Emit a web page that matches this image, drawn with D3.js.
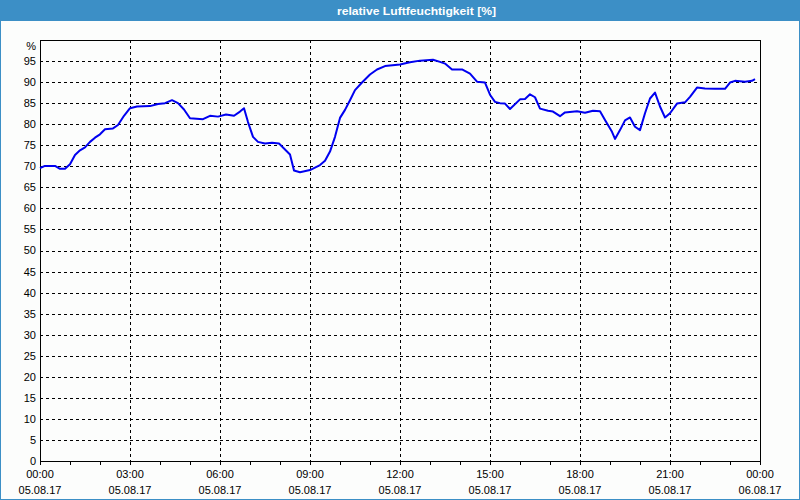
<!DOCTYPE html>
<html><head><meta charset="utf-8">
<script src="https://cdn.jsdelivr.net/npm/d3@7"></script>
<style>
html,body{margin:0;padding:0;background:#fcfdfc;}
svg{display:block;}
text{font-family:"Liberation Sans",Arial,sans-serif;}
</style></head>
<body><svg id="c" width="800" height="500"></svg>
<script>
const title = "relative Luftfeuchtigkeit [%]";
const yUnit = "%";
const minutes = [0,10,30,40,50,60,70,80,90,100,110,120,130,146,156,168,180,194,220,236,250,264,276,288,300,326,340,356,372,388,400,408,416,426,436,450,464,478,490,500,508,520,540,560,570,580,590,600,610,620,630,644,660,674,690,720,740,760,786,800,810,824,844,860,874,890,900,910,920,930,940,960,970,980,990,1000,1016,1026,1040,1050,1074,1090,1106,1120,1130,1144,1150,1160,1170,1180,1190,1200,1210,1220,1230,1240,1250,1260,1274,1290,1300,1314,1330,1350,1370,1380,1390,1410,1424,1430];
const humidity = [69.6,70.1,70.1,69.4,69.4,70.5,72.7,73.8,74.5,75.8,76.8,77.6,78.8,79.0,79.8,82.0,83.8,84.2,84.3,84.8,85.0,85.7,85.0,83.5,81.4,81.2,82.0,81.8,82.3,82.0,83.0,83.8,80.5,77.0,75.8,75.4,75.6,75.4,74.0,72.8,69.0,68.6,69.1,70.3,71.3,73.5,77.0,81.5,83.4,85.7,88.1,89.9,91.8,93.0,93.8,94.2,94.7,95.1,95.3,94.8,94.4,93.0,93.0,92.0,90.1,89.9,87.0,85.3,85.0,84.9,83.6,85.9,86.0,87.1,86.4,83.7,83.2,83.0,81.9,82.8,83.1,82.7,83.2,83.1,81.0,78.2,76.5,78.6,80.9,81.6,79.4,78.6,82.6,86.1,87.5,84.2,81.6,82.6,84.9,85.2,86.5,88.7,88.5,88.4,88.4,89.9,90.3,90.1,90.3,90.7];
const yTicks = [0,5,10,15,20,25,30,35,40,45,50,55,60,65,70,75,80,85,90,95];
const xTickMinutes = [0,180,360,540,720,900,1080,1260,1440];
const xTimeLabels = ["00:00","03:00","06:00","09:00","12:00","15:00","18:00","21:00","00:00"];
const xDateLabels = ["05.08.17","05.08.17","05.08.17","05.08.17","05.08.17","05.08.17","05.08.17","05.08.17","06.08.17"];
const xMinorMinutes = d3.range(0, 1441, 60);

const svg = d3.select("#c");
const W = 800, H = 500;
const blue = "#3c8fc6";
svg.append("rect").attr("x",0).attr("y",0).attr("width",W).attr("height",H).attr("fill","#fcfdfc");
svg.append("rect").attr("x",0.5).attr("y",0.5).attr("width",W-1).attr("height",H-1).attr("fill","none").attr("stroke",blue);
svg.append("rect").attr("x",0).attr("y",0).attr("width",W).attr("height",21).attr("fill",blue);
svg.append("text").attr("x",337).attr("y",14.5).attr("fill","#fff").attr("font-weight","bold")
  .attr("font-size",11).attr("textLength",159).attr("lengthAdjust","spacingAndGlyphs").text(title);

const x = d3.scaleLinear().domain([0,1440]).range([40,760]);
const y = d3.scaleLinear().domain([0,100]).range([461,40]);
const cr = v => Math.round(v) + 0.5;

const g = svg.append("g");
// grid
g.selectAll(".hg").data(yTicks.filter(d=>d>0)).join("line")
  .attr("x1",40).attr("x2",760).attr("y1",d=>cr(y(d))).attr("y2",d=>cr(y(d)))
  .attr("stroke","#000").attr("stroke-dasharray","3,3");
g.selectAll(".vg").data(xTickMinutes.filter(d=>d>0&&d<1440)).join("line")
  .attr("y1",40).attr("y2",461).attr("x1",d=>cr(x(d))).attr("x2",d=>cr(x(d)))
  .attr("stroke","#000").attr("stroke-dasharray","3,3");
// minor ticks
g.selectAll(".mt").data(xMinorMinutes).join("line")
  .attr("x1",d=>cr(x(d))).attr("x2",d=>cr(x(d))).attr("y1",461).attr("y2",465)
  .attr("stroke","#000");
// frame
g.append("rect").attr("x",cr(40)).attr("y",cr(40)).attr("width",720).attr("height",421)
  .attr("fill","none").attr("stroke","#000");

// y labels
g.selectAll(".yl").data(yTicks).join("text")
  .attr("x",36).attr("y",d=>y(d)).attr("dy","0.36em").attr("text-anchor","end")
  .attr("font-size",11).attr("fill","#000").text(d=>d);
g.append("text").attr("x",36).attr("y",46).attr("dy","0.36em").attr("text-anchor","end")
  .attr("font-size",11).attr("fill","#000").text(yUnit);
// x labels
g.selectAll(".xl1").data(xTickMinutes).join("text")
  .attr("x",d=>x(d)).attr("y",478).attr("text-anchor","middle").attr("font-size",11)
  .attr("fill","#000").text((d,i)=>xTimeLabels[i]);
g.selectAll(".xl2").data(xTickMinutes).join("text")
  .attr("x",d=>x(d)).attr("y",494).attr("text-anchor","middle").attr("font-size",11)
  .attr("fill","#000").text((d,i)=>xDateLabels[i]);

// line
const data = minutes.map((m,i)=>({m, v: humidity[i]}));
g.append("path").datum(data)
  .attr("d", d3.line().x(d=>x(d.m)).y(d=>y(d.v)))
  .attr("fill","none").attr("stroke","#0000f0").attr("stroke-width",2).attr("stroke-linejoin","round");
</script></body></html>
